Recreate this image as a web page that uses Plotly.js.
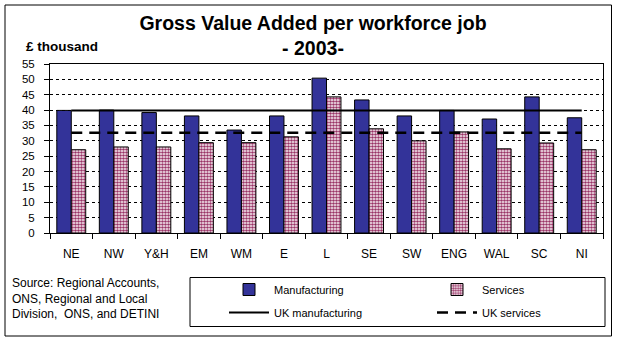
<!DOCTYPE html>
<html>
<head>
<meta charset="utf-8">
<script src="https://cdn.plot.ly/plotly-3.0.1.min.js"></script>
<style>
html,body{margin:0;padding:0;background:#fff;}
#chart{width:618px;height:341px;}
</style>
</head>
<body>
<div id="chart"></div>
<script>
// ---- data ----
const categories = ['NE','NW','Y&H','EM','WM','E','L','SE','SW','ENG','WAL','SC','NI'];
const manufacturing = [39.9, 40.0, 39.2, 38.1, 33.5, 38.1, 50.4, 43.3, 38.1, 39.9, 37.1, 44.3, 37.5];
const services = [27.1, 28.0, 28.0, 29.4, 29.4, 31.3, 44.3, 33.9, 30.0, 32.9, 27.4, 29.3, 27.1];
const ukManufacturing = 39.9;
const ukServices = 32.6;
const yTicks = [0,5,10,15,20,25,30,35,40,45,50,55];
const titleText = 'Gross Value Added per workforce job<br>- 2003-';
const unitText = '£ thousand';
const sourceText = 'Source: Regional Accounts,<br>ONS, Regional and Local<br>Division,  ONS, and DETINI';

// ---- layout helpers (pixel -> paper) ----
const W = 618, H = 341;
const M = {l: 50, r: 15, t: 64, b: 108, autoexpand: false};
const PW = W - M.l - M.r, PH = H - M.t - M.b;
const px = x => (x - M.l) / PW;
const py = y => (H - M.b - y) / PH;

const sans = '"Liberation Sans", Arial, sans-serif';

const traces = [
  {
    type: 'bar', name: 'Manufacturing', x: categories, y: manufacturing,
    legend: 'legend', legendgroup: 'a',
    marker: {color: '#333399', line: {color: '#000', width: 1}}
  },
  {
    type: 'bar', name: 'Services', x: categories, y: services,
    legend: 'legend2', legendgroup: 'b',
    marker: {color: '#ffffff', line: {color: '#000', width: 1},
      pattern: {shape: '.', fgcolor: '#993366', bgcolor: '#ffffff', size: 3, solidity: 0.6}}
  },
  {
    type: 'scatter', mode: 'lines', name: 'UK manufacturing', x: categories,
    y: categories.map(() => ukManufacturing),
    legend: 'legend', legendgroup: 'c',
    line: {color: '#000', width: 2}
  },
  {
    type: 'scatter', mode: 'lines', name: 'UK services', x: categories,
    y: categories.map(() => ukServices),
    legend: 'legend2', legendgroup: 'd',
    line: {color: '#000', width: 2.5, dash: '11px,7px'}
  }
];

const legendCommon = {
  orientation: 'v', xanchor: 'left', yanchor: 'top',
  font: {family: sans, size: 11, color: '#000'},
  itemwidth: 40, bgcolor: 'rgba(0,0,0,0)',
  traceorder: 'grouped', tracegroupgap: 4
};

const layout = {
  width: W, height: H,
  margin: M,
  paper_bgcolor: '#fff', plot_bgcolor: '#fff',
  font: {family: sans, size: 11.5, color: '#000'},
  title: {
    text: titleText,
    font: {family: sans, size: 19.5, weight: 700, color: '#000'},
    x: 313 / W, xanchor: 'center', xref: 'container',
    y: 1 - 30 / H, yanchor: 'top', yref: 'container'
  },
  barmode: 'group',
  bargap: 0.32,
  bargroupgap: 0,
  showlegend: true,
  legend: Object.assign({x: px(224), y: py(275)}, legendCommon),
  legend2: Object.assign({x: px(432), y: py(275)}, legendCommon),
  xaxis: {
    type: 'category', showline: true, linecolor: '#000', linewidth: 1, mirror: true,
    ticks: 'outside', tickson: 'boundaries', ticklen: 5, tickcolor: '#000',
    ticklabelstandoff: 10,
    showgrid: false, zeroline: false,
    tickfont: {family: sans, size: 12}, fixedrange: true
  },
  yaxis: {
    range: [0, 55], tickvals: yTicks, showline: true, linecolor: '#000', linewidth: 1, mirror: true,
    ticks: 'outside', ticklen: 5, tickcolor: '#000', ticklabelstandoff: 7,
    showgrid: true, gridcolor: '#000', gridwidth: 1, griddash: '3px,3px',
    zeroline: false, tickfont: {family: sans, size: 11.5}, fixedrange: true
  },
  annotations: [
    {text: unitText, xref: 'paper', yref: 'paper', x: px(24), y: py(47), xanchor: 'left', yanchor: 'middle',
     showarrow: false, font: {family: sans, size: 13.5, weight: 700}},
    {text: sourceText, xref: 'paper', yref: 'paper', x: px(10), y: py(298), xanchor: 'left', yanchor: 'middle',
     align: 'left', showarrow: false, font: {family: sans, size: 12}}
  ],
  shapes: [
    {type: 'rect', xref: 'paper', yref: 'paper', x0: px(5), x1: px(611.5), y0: py(5), y1: py(336),
     line: {color: '#000', width: 1}, fillcolor: 'rgba(0,0,0,0)', layer: 'below'},
    {type: 'rect', xref: 'paper', yref: 'paper', x0: px(190), x1: px(605), y0: py(277.5), y1: py(326.5),
     line: {color: '#000', width: 1}, fillcolor: 'rgba(0,0,0,0)', layer: 'below'}
  ]
};

Plotly.newPlot('chart', traces, layout, {staticPlot: true, displayModeBar: false});
</script>
</body>
</html>
